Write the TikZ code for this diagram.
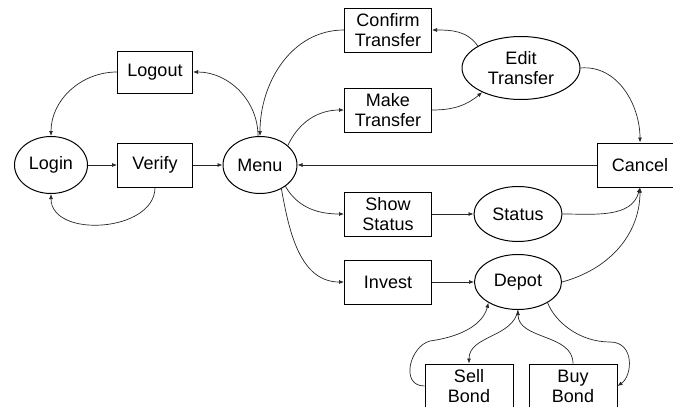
\documentclass[tikz,border=0pt]{standalone}
\usepackage{fontspec}
\setmainfont{Liberation Sans}
\usetikzlibrary{shapes.geometric,arrows.meta}
\begin{document}
\begin{tikzpicture}[x=1pt,y=1pt,
  font=\fontsize{18}{20}\selectfont,
  box/.style={draw, line width=1pt, rectangle, minimum width=#1, minimum height=44pt, inner sep=0pt, align=center},
  oval/.style 2 args={draw, line width=1pt, ellipse, minimum width=#1, minimum height=#2, inner sep=0pt, align=center},
  conn/.style={line width=0.7pt, black!85, -{Latex[length=5pt,width=4pt]}}]
\useasboundingbox (0,0) rectangle (673,-407);
\node[oval={73}{57}] (login) at (51,-165) {Login};
\node[box=75] (verify) at (155,-165) {Verify};
\node[box=75, minimum height=42pt] (logout) at (155,-72) {Logout};
\node[oval={74}{57}] (menu) at (260,-165) {Menu};
\node[box=87] (confirm) at (388,-30) {Confirm\\Transfer};
\node[box=87] (make) at (388,-110) {Make\\Transfer};
\node[oval={118}{63}] (edit) at (521,-68) {Edit\\Transfer};
\node[box=86] (cancel) at (640,-165) {Cancel};
\node[box=87] (show) at (388,-214) {Show\\Status};
\node[box=87] (invest) at (388,-282) {Invest};
\node[oval={88}{55}] (status) at (518,-214) {Status};
\node[oval={87}{55}] (depot) at (518,-282) {Depot};
\node[box=88] (sell) at (469,-386) {Sell\\Bond};
\node[box=88] (buy) at (573,-386) {Buy\\Bond};

\draw[conn] (login) -- (verify);
\draw[conn] (verify) -- (menu);
\draw[conn] (verify.south) to[out=-90,in=-90,looseness=1.1] (login.south);
\draw[conn] (logout.west) to[out=180,in=90] (login.north);
\draw[conn] ([xshift=-2pt]menu.north) to[out=90,in=0] (logout.east);
\draw[conn] (confirm.west) to[out=180,in=90] (menu.north);
\draw[conn] (menu.35) to[out=65,in=180] (make.west);
\draw[conn] (make.east) to[out=0,in=-140] (edit.212);
\draw[conn] (edit.153) to[out=125,in=0] (confirm.east);
\draw[conn] (edit.east) to[out=5,in=90] (cancel.north);
\draw[conn] (cancel.west) -- (menu.east);
\draw[conn] (menu.-40) to[out=-60,in=180] (show.west);
\draw[conn] (menu.-48) to[out=-80,in=180] (invest.west);
\draw[conn] (show) -- (status);
\draw[conn] (invest) -- (depot);
\draw[conn] (status.east) to[out=0,in=-105] (cancel.south);
\draw[conn] (depot.east) to[out=15,in=-90] (cancel.south);
\draw[conn] (sell.west) .. controls +(-25,0) and +(-20,-5) .. (430,-341) .. controls +(35,5) and +(-5,-20) .. (depot.215);
\draw[conn] (depot.south) to[out=-100,in=90] (sell.north);
\draw[conn] (buy.north) to[out=90,in=-90] (depot.south);
\draw[conn] (depot.-35) .. controls +(8,-20) and +(-30,0) .. (610,-342) .. controls +(25,0) and +(15,10) .. (buy.east);
\end{tikzpicture}
\end{document}
